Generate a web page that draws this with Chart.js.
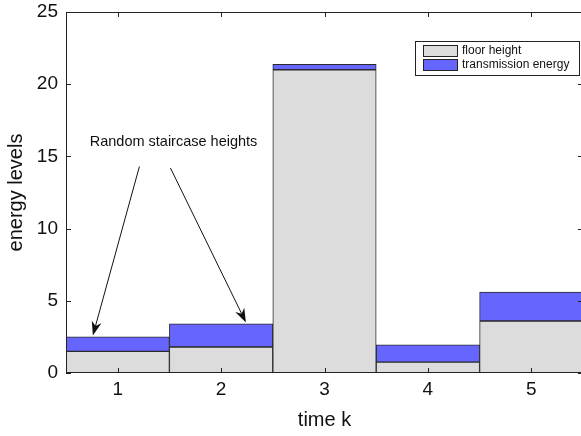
<!DOCTYPE html>
<html>
<head>
<meta charset="utf-8">
<script src="https://cdn.jsdelivr.net/npm/chart.js@4.4.1/dist/chart.umd.min.js"></script>
<style>
  html, body { margin: 0; padding: 0; background: #fff; overflow: hidden; }
  #wrap { width: 583px; height: 436px; }
</style>
</head>
<body>
<div id="wrap"><canvas id="energyChart" width="583" height="436"></canvas></div>
<script>
// time steps and stacked values
const timeSteps = ['1', '2', '3', '4', '5'];
const floorHeight = [1.5, 1.8, 21.0, 0.75, 3.6];
const transmissionEnergy = [1.0, 1.6, 0.37, 1.2, 2.0];
const yTicks = [0, 5, 10, 15, 20, 25];

// annotation in data units (x = category index, y = value)
const noteText = 'Random staircase heights';
const notePos = { x: 0.54, y: 16.0 };
const noteArrows = [
  { from: { x: 0.21, y: 14.3 }, to: { x: -0.24, y: 2.6 } },
  { from: { x: 0.51, y: 14.2 }, to: { x: 1.24, y: 3.5 } }
];

const FONT = '"Liberation Sans", Arial, Helvetica, sans-serif';

// box around plot with MATLAB-style inward ticks
const framePlugin = {
  id: 'frame',
  afterDatasetsDraw(chart) {
    const { ctx, chartArea: a, scales } = chart;
    ctx.save();
    ctx.strokeStyle = '#222';
    ctx.lineWidth = 1;
    ctx.strokeRect(a.left + 0.5, a.top + 0.5, a.right - a.left - 1, a.bottom - a.top - 1);
    const len = 5;
    ctx.beginPath();
    timeSteps.forEach((t, i) => {
      const x = Math.round(scales.x.getPixelForValue(i)) + 0.5;
      ctx.moveTo(x, a.top); ctx.lineTo(x, a.top + len);
      ctx.moveTo(x, a.bottom); ctx.lineTo(x, a.bottom - len);
    });
    yTicks.forEach(v => {
      const y = Math.round(scales.y.getPixelForValue(v)) + 0.5;
      ctx.moveTo(a.left, y); ctx.lineTo(a.left + len, y);
      ctx.moveTo(a.right, y); ctx.lineTo(a.right - len, y);
    });
    ctx.stroke();
    ctx.restore();
  }
};

// legend box drawn inside the plot, top right
const boxLegendPlugin = {
  id: 'boxLegend',
  afterDraw(chart) {
    const { ctx, chartArea: a } = chart;
    const w = 164, h = 34;
    const x0 = a.right - 4 - w, y0 = a.top + 29;
    ctx.save();
    ctx.fillStyle = '#fff';
    ctx.fillRect(x0, y0, w, h);
    ctx.strokeStyle = '#222';
    ctx.lineWidth = 1;
    ctx.strokeRect(x0 + 0.5, y0 + 0.5, w, h);
    ctx.font = '12px ' + FONT;
    ctx.textBaseline = 'middle';
    chart.data.datasets.forEach((ds, i) => {
      const sy = y0 + 4 + i * 14;
      ctx.fillStyle = ds.backgroundColor;
      ctx.fillRect(x0 + 8, sy, 34, 11);
      ctx.strokeStyle = '#222';
      ctx.strokeRect(x0 + 8.5, sy + 0.5, 34, 11);
      ctx.fillStyle = '#111';
      ctx.fillText(ds.label, x0 + 47, sy + 6);
    });
    ctx.restore();
  }
};

// text plus arrows pointing at the first two stairs
const notePlugin = {
  id: 'note',
  afterDraw(chart) {
    const { ctx, scales } = chart;
    const px = p => ({ x: scales.x.getPixelForValue(p.x), y: scales.y.getPixelForValue(p.y) });
    ctx.save();
    ctx.font = '14.5px ' + FONT;
    ctx.fillStyle = '#111';
    ctx.textAlign = 'center';
    ctx.textBaseline = 'middle';
    const t = px(notePos);
    ctx.fillText(noteText, t.x, t.y);
    ctx.strokeStyle = '#111';
    ctx.lineWidth = 1;
    noteArrows.forEach(ar => {
      const f = px(ar.from), e = px(ar.to);
      const ang = Math.atan2(e.y - f.y, e.x - f.x);
      const hl = 14, hw = 5;
      ctx.beginPath();
      ctx.moveTo(f.x, f.y);
      ctx.lineTo(e.x - Math.cos(ang) * hl * 0.7, e.y - Math.sin(ang) * hl * 0.7);
      ctx.stroke();
      ctx.beginPath();
      ctx.moveTo(e.x, e.y);
      ctx.lineTo(e.x - Math.cos(ang) * hl - Math.sin(ang) * hw, e.y - Math.sin(ang) * hl + Math.cos(ang) * hw);
      ctx.lineTo(e.x - Math.cos(ang) * hl * 0.7, e.y - Math.sin(ang) * hl * 0.7);
      ctx.lineTo(e.x - Math.cos(ang) * hl + Math.sin(ang) * hw, e.y - Math.sin(ang) * hl - Math.cos(ang) * hw);
      ctx.closePath();
      ctx.fill();
    });
    ctx.restore();
  }
};

const ctx = document.getElementById('energyChart').getContext('2d');
new Chart(ctx, {
  type: 'bar',
  data: {
    labels: timeSteps,
    datasets: [
      {
        label: 'floor height',
        data: floorHeight,
        backgroundColor: '#dcdcdc',
        borderColor: '#2a2a2a',
        borderWidth: 1,
        borderSkipped: false
      },
      {
        label: 'transmission energy',
        data: transmissionEnergy,
        backgroundColor: '#6666ff',
        borderColor: '#2a2a2a',
        borderWidth: 1,
        borderSkipped: false
      }
    ]
  },
  options: {
    responsive: false,
    animation: false,
    layout: { padding: 0 },
    plugins: {
      legend: { display: false },
      tooltip: { enabled: false }
    },
    datasets: { bar: { categoryPercentage: 1, barPercentage: 1 } },
    scales: {
      x: {
        stacked: true,
        grid: { display: false, drawTicks: false },
        border: { display: false },
        ticks: { color: '#111', font: { size: 19, family: FONT }, padding: 5 },
        title: { display: true, text: 'time k', color: '#111', font: { size: 20, family: FONT }, padding: { top: 4 } },
        afterFit(scale) {
          scale.height = 63;
          scale.paddingLeft = 0;
          scale.paddingRight = 0;
        }
      },
      y: {
        stacked: true,
        min: 0,
        max: 25,
        grid: { display: false, drawTicks: false },
        border: { display: false },
        ticks: { stepSize: 5, color: '#111', font: { size: 19, family: FONT }, padding: 8 },
        title: { display: true, text: 'energy levels', color: '#111', font: { size: 20, family: FONT }, padding: { bottom: 6 } },
        afterFit(scale) {
          scale.width = 66;
          scale.paddingTop = 12;
          scale.paddingBottom = 0;
        }
      }
    }
  },
  plugins: [framePlugin, boxLegendPlugin, notePlugin]
});
</script>
</body>
</html>
